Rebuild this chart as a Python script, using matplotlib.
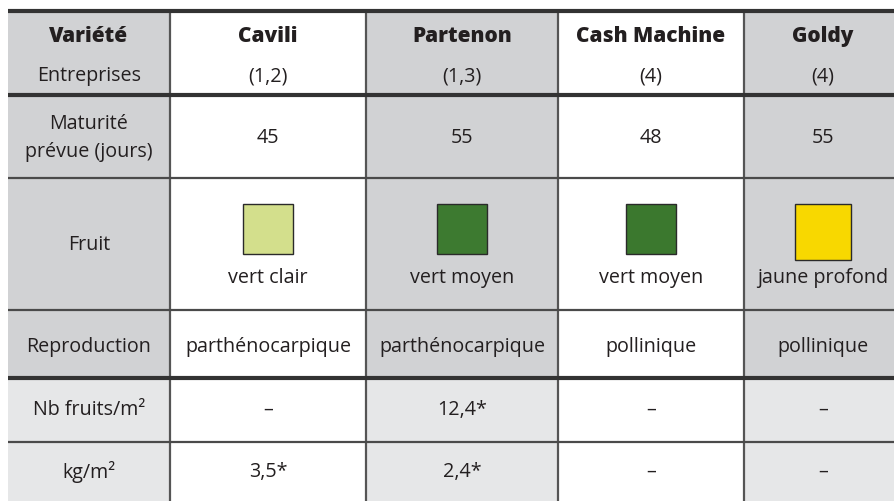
import matplotlib
matplotlib.use("Agg")
import matplotlib.pyplot as plt
from matplotlib.patches import Rectangle

plt.rcParams['font.family'] = ['Open Sans', 'DejaVu Sans']

# --- données du tableau ---
varietes = ["Cavili", "Partenon", "Cash Machine", "Goldy"]
entreprises = ["(1,2)", "(1,3)", "(4)", "(4)"]
maturite = ["45", "55", "48", "55"]
fruit_couleur = ["vert clair", "vert moyen", "vert moyen", "jaune profond"]
fruit_teinte = ["#d3df8c", "#3d7a30", "#3b782e", "#f8d800"]
reproduction = ["parthénocarpique", "parthénocarpique", "pollinique", "pollinique"]
nb_fruits = ["–", "12,4*", "–", "–"]
kg_m2 = ["3,5*", "2,4*", "–", "–"]

row_labels = ["Maturité\nprévue (jours)", "Fruit", "Reproduction", "Nb fruits/m²", "kg/m²"]

# --- géométrie (pixels) ---
W, H = 894, 501
col_x = [8, 170, 366, 558, 744, 902]
row_y = [11, 95, 178, 310, 378, 442, 501]

GRAY = "#d1d2d4"
LIGHT = "#e6e7e8"
WHITE = "#ffffff"
TXT = "#231f20"

fig = plt.figure(figsize=(W / 100, H / 100), dpi=100)
ax = fig.add_axes([0, 0, 1, 1])
ax.set_xlim(0, W)
ax.set_ylim(H, 0)
ax.axis("off")

# fonds des cellules
for r in range(len(row_y) - 1):
    for c in range(len(col_x) - 1):
        if c in (1, 3):
            color = WHITE
        elif r >= 4:
            color = LIGHT
        else:
            color = GRAY
        ax.add_patch(Rectangle((col_x[c], row_y[r]), col_x[c + 1] - col_x[c],
                               row_y[r + 1] - row_y[r], facecolor=color,
                               edgecolor="none", zorder=0))

# lignes horizontales
thick = {11, 95, 378}
for y in row_y[:-1]:
    lw = 3.0 if y in thick else 1.6
    ax.plot([col_x[0], W + 10], [y, y], color="#333333" if y in thick else "#4a4a4a",
            lw=lw, solid_capstyle="butt", zorder=3)

# lignes verticales
for x in col_x[1:-1]:
    ax.plot([x, x], [row_y[0], H], color="#555555", lw=1.6, zorder=2)

centers = [(col_x[i] + col_x[i + 1]) / 2 for i in range(len(col_x) - 1)]
fs = 14.2
bfs = 15

# en-tête
ax.text(centers[0], 36, "Variété", ha="center", va="center", fontsize=bfs,
        fontweight="heavy", color=TXT)
ax.text(centers[0], 76, "Entreprises", ha="center", va="center", fontsize=fs, color=TXT)
for i, (v, e) in enumerate(zip(varietes, entreprises)):
    ax.text(centers[i + 1], 36, v, ha="center", va="center", fontsize=bfs,
            fontweight="heavy", color=TXT)
    ax.text(centers[i + 1], 76, e, ha="center", va="center", fontsize=fs, color=TXT)

# étiquettes de lignes
label_y = [138, 245, 347, 410, 472]
ax.text(centers[0], 124, "Maturité", ha="center", va="center", fontsize=fs, color=TXT)
ax.text(centers[0], 152, "prévue (jours)", ha="center", va="center", fontsize=fs, color=TXT)
for lab, y in zip(row_labels[1:], label_y[1:]):
    ax.text(centers[0], y, lab, ha="center", va="center", fontsize=fs, color=TXT)

# valeurs
for i in range(4):
    cx = centers[i + 1]
    ax.text(cx, 138, maturite[i], ha="center", va="center", fontsize=fs, color=TXT)
    size = 56 if i == 3 else 50
    ax.add_patch(Rectangle((cx - size / 2, 204), size, size, facecolor=fruit_teinte[i],
                           edgecolor="#2a2a2a", lw=1.0, zorder=4))
    ax.text(cx, 278, fruit_couleur[i], ha="center", va="center", fontsize=fs, color=TXT)
    ax.text(cx, 347, reproduction[i], ha="center", va="center", fontsize=fs, color=TXT)
    ax.text(cx, 410, nb_fruits[i], ha="center", va="center", fontsize=fs, color=TXT)
    ax.text(cx, 472, kg_m2[i], ha="center", va="center", fontsize=fs, color=TXT)

fig.savefig("out.png", dpi=100)
